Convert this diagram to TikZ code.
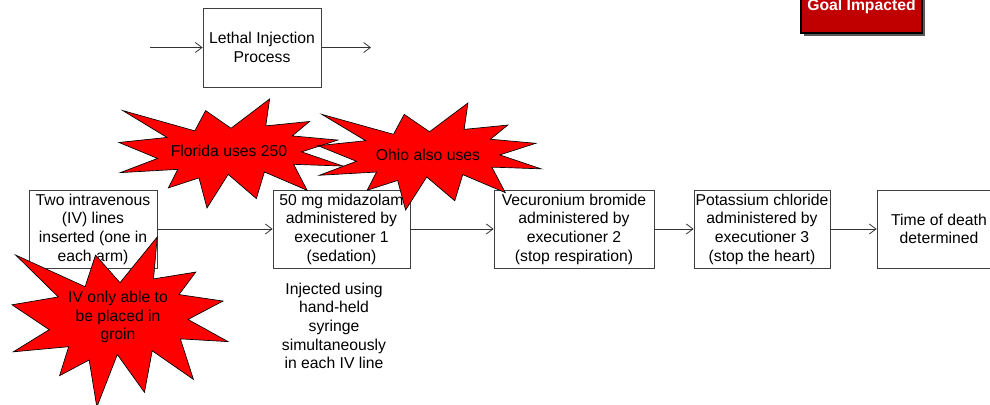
\documentclass[tikz,border=0pt]{standalone}
\usepackage{fontspec}
\setmainfont{Liberation Sans}
\usetikzlibrary{arrows.meta}
\definecolor{goalred}{RGB}{192,0,0}

\begin{document}
\begin{tikzpicture}[x=0.75pt, y=-0.75pt,
    box/.style={rectangle, draw=black!75, line width=0.6pt, fill=white, align=center,
        inner sep=1pt, minimum height=58.5pt, font=\fontsize{11.8}{14}\selectfont},
    flow/.style={draw=black!80, line width=0.6pt, -{Straight Barb[length=5pt,width=7.5pt]}},
    burst/.style={draw=black, line width=0.5pt, fill=red},
    seal/.style={insert path={(0.5,0.2685) -- (0.6723,0) -- (0.6553,0.2465) -- (0.8509,0.2063)
        -- (0.7732,0.3387) -- (0.9767,0.3767) -- (0.8151,0.4850) -- (1,0.6153)
        -- (0.7795,0.5992) -- (0.8400,0.8377) -- (0.6491,0.6693) -- (0.6133,0.9137)
        -- (0.4876,0.6914) -- (0.3928,1) -- (0.3572,0.7235) -- (0.2205,0.8156)
        -- (0.2624,0.6452) -- (0.0063,0.6753) -- (0.1723,0.5451) -- (0,0.3988)
        -- (0.2142,0.3526) -- (0.0171,0.1063) -- (0.3385,0.2926) -- (0.3867,0.1063) -- cycle}},
    bursttext/.style={align=center, font=\fontsize{11.8}{14}\selectfont}]
        \path[use as bounding box] (0,0) rectangle (990,404);
        \clip (0,0) rectangle (990,404);

        % goal box, cut at the top
        \fill[black!65] (804,-10) rectangle (925,36);
        \draw[draw=black, line width=1.2pt, fill=goalred] (801,-10) rectangle (922,33);
        \node[text=white, font=\bfseries\fontsize{11.8}{14}\selectfont] (goal) at (861.5,6.5) {Goal Impacted};

        % process
        \node[box, minimum width=88.5pt, minimum height=59.25pt] (proc) at (262,47.5) {Lethal Injection\\Process};
        \coordinate (pin) at (150,47.5);
        \coordinate (pout) at (371,47.5);
        \draw[flow] (pin) -- (proc);
        \draw[flow] (proc) -- (pout);

        % steps
        \node[box, minimum width=96pt] (iv) at (93,229) {Two intravenous\\(IV) lines\\inserted (one in\\each arm)};
        \node[box, minimum width=102.75pt] (mida) at (341.5,229) {50 mg midazolam\\administered by\\executioner 1\\(sedation)};
        \node[box, minimum width=120pt] (vecu) at (574,229) {Vecuronium bromide\\administered by\\executioner 2\\(stop respiration)};
        \node[box, minimum width=102pt] (pota) at (762,229) {Potassium chloride\\administered by\\executioner 3\\(stop the heart)};
        \node[box, minimum width=93pt] (death) at (939,229) {Time of death\\determined};
        \draw[flow] (iv) -- (mida);
        \draw[flow] (mida) -- (vecu);
        \draw[flow] (vecu) -- (pota);
        \draw[flow] (pota) -- (death);

        \node[bursttext] (note) at (334,326) {Injected using\\hand-held\\syringe\\simultaneously\\in each IV line};

        % explosions
        \foreach \bx/\by/\bw/\bh in {119/99/224/109, 318/103/223/107, 12/237/216/170}
        {
            \draw[burst, shift={(\bx,\by)}, xscale=\bw, yscale=\bh] [seal];
        }
        \node[bursttext] (florida) at (229,151) {Florida uses 250};
        \node[bursttext] (ohio) at (428,155) {Ohio also uses};
        \node[bursttext] (groin) at (118,317) {IV only able to\\be placed in\\groin};
    \end{tikzpicture}
\end{document}
